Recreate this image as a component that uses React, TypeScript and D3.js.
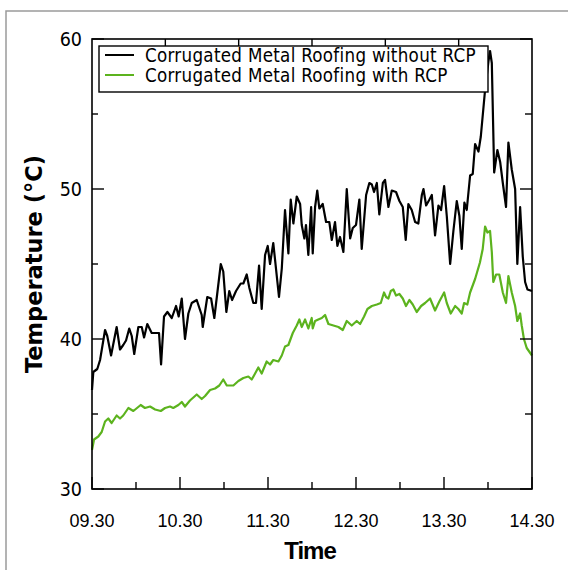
import React from "react";
import * as d3 from "d3";

// minutes after 09.30
const blackTimes = [0, 0.9, 3.6, 5.5, 8.9, 10.4, 13.0, 16.8, 19.1, 21.3, 23.2, 25.4, 27.1, 28.8, 31.6, 33.9, 35.5, 37.7, 40.7, 44.1, 45.7, 47.1, 49.1, 51.4, 54.4, 57.3, 59.1, 61.2, 63.4, 65.7, 68.0, 71.4, 74.8, 75.5, 78.6, 81.2, 83.4, 87.8, 89.5, 91.6, 93.6, 95.5, 98.2, 101.4, 103.2, 105.5, 107.3, 110.0, 111.8, 113.9, 115.7, 118.0, 119.8, 121.4, 123.6, 127.5, 129.4, 131.6, 133.9, 135.5, 137.3, 139.6, 141.9, 143.0, 144.8, 145.9, 147.5, 149.4, 150.5, 152.1, 153.6, 155.0, 157.3, 159.6, 161.8, 163.5, 165.7, 167.3, 169.1, 171.4, 173.7, 176.0, 177.8, 180.0, 182.3, 183.9, 186.9, 189.1, 190.8, 192.3, 194.2, 195.9, 198.3, 199.8, 202.1, 204.4, 207.3, 209.6, 211.9, 213.9, 215.7, 218.0, 220.3, 222.5, 224.9, 226.0, 227.8, 230.1, 231.7, 233.9, 236.2, 238.0, 240.1, 241.9, 244.2, 246.4, 248.7, 250.5, 252.1, 253.9, 255.5, 257.8, 259.6, 261.2, 263.5, 265.1, 268.0, 270.3, 271.4, 272.6, 274.2, 276.4, 278.3, 280.1, 282.3, 283.9, 286.2, 288.5, 290.0, 291.9, 293.7, 295.3, 296.9, 300];
const blackTemps = [36.6, 37.8, 38.0, 38.6, 40.6, 40.2, 38.9, 40.8, 39.3, 39.6, 39.9, 40.7, 40.2, 39.0, 40.8, 40.8, 40.1, 41.0, 40.4, 40.4, 40.4, 38.3, 41.5, 41.8, 41.4, 42.2, 41.5, 42.7, 40.0, 41.7, 42.4, 42.6, 41.6, 40.8, 42.8, 42.7, 41.4, 45.0, 44.5, 41.8, 43.2, 42.6, 43.2, 43.7, 43.7, 44.3, 43.4, 42.4, 42.4, 44.9, 42.0, 45.6, 46.2, 45.0, 46.4, 42.8, 44.7, 48.6, 45.7, 49.3, 47.7, 49.5, 49.0, 47.6, 46.7, 47.6, 45.6, 48.8, 45.7, 48.8, 49.9, 48.7, 49.0, 47.8, 47.8, 46.6, 47.8, 46.2, 46.8, 45.8, 50.0, 46.7, 47.4, 47.6, 49.3, 46.0, 49.6, 50.4, 50.3, 49.8, 50.4, 48.3, 50.4, 50.6, 48.8, 49.9, 49.8, 49.2, 48.8, 46.6, 49.0, 48.6, 47.8, 47.7, 49.6, 50.0, 48.9, 49.3, 49.6, 46.9, 48.9, 48.6, 50.2, 48.2, 45.0, 47.2, 49.2, 48.2, 46.0, 49.1, 48.6, 50.9, 51.0, 53.0, 52.5, 53.5, 56.6, 58.5, 59.2, 58.4, 51.1, 52.6, 51.8, 50.4, 48.8, 53.1, 51.3, 50.0, 45.0, 48.8, 45.5, 43.8, 43.3, 43.2];

const greenTimes = [0, 1.4, 4.3, 6.6, 8.9, 11.1, 13.4, 16.8, 19.1, 21.3, 24.8, 28.2, 33.2, 36.1, 39.6, 43.0, 46.9, 49.8, 53.2, 55.4, 58.9, 61.2, 63.4, 66.8, 71.4, 74.8, 77.1, 80.5, 83.9, 86.8, 89.5, 91.9, 96.4, 99.8, 103.2, 106.6, 108.9, 111.2, 113.4, 115.7, 119.1, 121.4, 123.6, 127.1, 129.4, 131.6, 133.9, 136.9, 139.6, 141.4, 143.0, 145.3, 147.5, 149.8, 150.5, 152.1, 154.3, 156.7, 158.9, 161.2, 164.6, 168.0, 171.0, 173.7, 177.1, 180.5, 182.8, 185.5, 187.8, 190.8, 194.2, 196.9, 199.1, 200.5, 202.1, 203.7, 205.5, 207.3, 209.6, 211.9, 214.1, 216.4, 218.7, 221.4, 224.4, 227.1, 230.5, 233.9, 236.8, 240.1, 241.9, 244.6, 247.6, 249.8, 252.1, 253.7, 255.9, 257.8, 261.2, 264.5, 266.4, 268.0, 269.6, 271.4, 272.6, 273.6, 275.5, 277.7, 280.1, 282.3, 283.9, 286.2, 288.5, 290.0, 291.9, 293.0, 294.5, 296.4, 300];
const greenTemps = [32.6, 33.3, 33.5, 33.8, 34.5, 34.7, 34.4, 34.9, 34.7, 34.9, 35.4, 35.2, 35.6, 35.4, 35.5, 35.3, 35.2, 35.4, 35.5, 35.4, 35.6, 35.8, 35.5, 35.9, 36.3, 36.0, 36.2, 36.6, 36.7, 36.9, 37.3, 36.9, 36.9, 37.2, 37.4, 37.5, 37.3, 37.7, 38.1, 37.7, 38.5, 38.3, 38.6, 38.5, 38.9, 39.5, 39.6, 40.4, 40.9, 41.3, 40.8, 41.3, 40.7, 41.4, 40.7, 41.2, 41.3, 41.4, 41.6, 41.0, 40.9, 40.8, 40.6, 41.2, 40.9, 41.2, 41.0, 41.5, 42.0, 42.2, 42.3, 42.4, 43.1, 42.8, 42.7, 43.2, 43.3, 42.9, 43.0, 42.7, 42.2, 42.6, 42.3, 41.8, 42.2, 42.4, 42.7, 41.9, 42.5, 43.1, 42.4, 41.7, 42.2, 42.0, 41.7, 42.4, 42.3, 43.1, 44.0, 45.1, 46.0, 47.5, 47.1, 47.2, 45.8, 43.8, 44.3, 44.3, 43.1, 42.4, 44.2, 43.1, 42.2, 41.2, 41.7, 40.9, 40.0, 39.4, 38.9];

const xTickLabels = ["09.30", "10.30", "11.30", "12.30", "13.30", "14.30"];
const xMajor = [0, 60, 120, 180, 240, 300];
const xMinor = [30, 90, 150, 210, 270];
const yMajor = [30, 40, 50, 60];
const yMinor = [35, 45, 55];
const seriesNames = ["Corrugated Metal Roofing without RCP", "Corrugated Metal Roofing with RCP"];
const seriesColors = ["#000000", "#5cb31e"];

export default function App() {
  const W = 568, H = 570;
  const L = 92, R = 532, T = 39, B = 489;
  const x = d3.scaleLinear().domain([0, 300]).range([L, R]);
  const y = d3.scaleLinear().domain([30, 60]).range([B, T]);
  const xTop = d3.scaleLinear().domain([0, 6]).range([L, R]);

  const mk = (times: number[], temps: number[]) =>
    d3.line<number>().x((_, i) => x(times[i])).y((d) => y(d))(temps) || "";

  const lines = [mk(blackTimes, blackTemps), mk(greenTimes, greenTemps)];
  const sans = "'DejaVu Sans Condensed', 'DejaVu Sans', sans-serif";

  return (
    <svg width={W} height={H} style={{ position: "absolute", left: 0, top: 0, background: "#fff" }}>
      <rect x={6} y={11} width={600} height={600} fill="none" stroke="#9a9a9a" strokeWidth={1.5} />
      <g>
        {lines.map((d, i) => (
          <path key={i} d={d} fill="none" stroke={seriesColors[i]} strokeWidth={2.2} strokeLinejoin="round" />
        ))}
      </g>
      <rect x={L} y={T} width={R - L} height={B - T} fill="none" stroke="#000" strokeWidth={1.6} />
      {xMajor.map((v, i) => (
        <g key={"xm" + i}>
          <line x1={x(v)} x2={x(v)} y1={B} y2={B - 12} stroke="#000" strokeWidth={1.4} />
          <text x={x(v)} y={527} textAnchor="middle" fontFamily="'Liberation Sans', Arial, sans-serif" fontSize={18}>
            {xTickLabels[i]}
          </text>
        </g>
      ))}
      {xMinor.map((v, i) => (
        <line key={"xn" + i} x1={x(v)} x2={x(v)} y1={B} y2={B - 7} stroke="#000" strokeWidth={1.4} />
      ))}
      {d3.range(1, 6).map((v) => (
        <line key={"xt" + v} x1={xTop(v)} x2={xTop(v)} y1={T} y2={T + 8} stroke="#000" strokeWidth={1.4} />
      ))}
      {yMajor.map((v) => (
        <g key={"ym" + v}>
          <line x1={L} x2={L + 12} y1={y(v)} y2={y(v)} stroke="#000" strokeWidth={1.4} />
          <line x1={R} x2={R - 12} y1={y(v)} y2={y(v)} stroke="#000" strokeWidth={1.4} />
          <text x={82} y={y(v) + 7} textAnchor="end" fontFamily={sans} fontSize={19.5}>
            {v}
          </text>
        </g>
      ))}
      {yMinor.map((v) => (
        <g key={"yn" + v}>
          <line x1={L} x2={L + 6} y1={y(v)} y2={y(v)} stroke="#000" strokeWidth={1.4} />
          <line x1={R} x2={R - 7} y1={y(v)} y2={y(v)} stroke="#000" strokeWidth={1.4} />
        </g>
      ))}
      <g>
        <rect x={99} y={46} width={389} height={46} fill="#fff" stroke="#000" strokeWidth={1.4} />
        {seriesNames.map((n, i) => (
          <g key={n}>
            <line x1={105} x2={134} y1={55 + i * 20} y2={55 + i * 20} stroke={seriesColors[i]} strokeWidth={2} />
            <text x={145} y={61.5 + i * 20} fontFamily={sans} fontSize={18.6} letterSpacing={0.3}>
              {n}
            </text>
          </g>
        ))}
      </g>
      <text x={310} y={559} textAnchor="middle" fontFamily="'Liberation Sans', Arial, sans-serif" fontWeight="bold" fontSize={24} letterSpacing={-1}>
        Time
      </text>
      <text
        transform={`translate(42, ${(T + B) / 2}) rotate(-90)`}
        textAnchor="middle"
        fontFamily="'DejaVu Sans', sans-serif"
        fontWeight="bold"
        fontSize={22.5}
      >
        Temperature (°C)
      </text>
    </svg>
  );
}
